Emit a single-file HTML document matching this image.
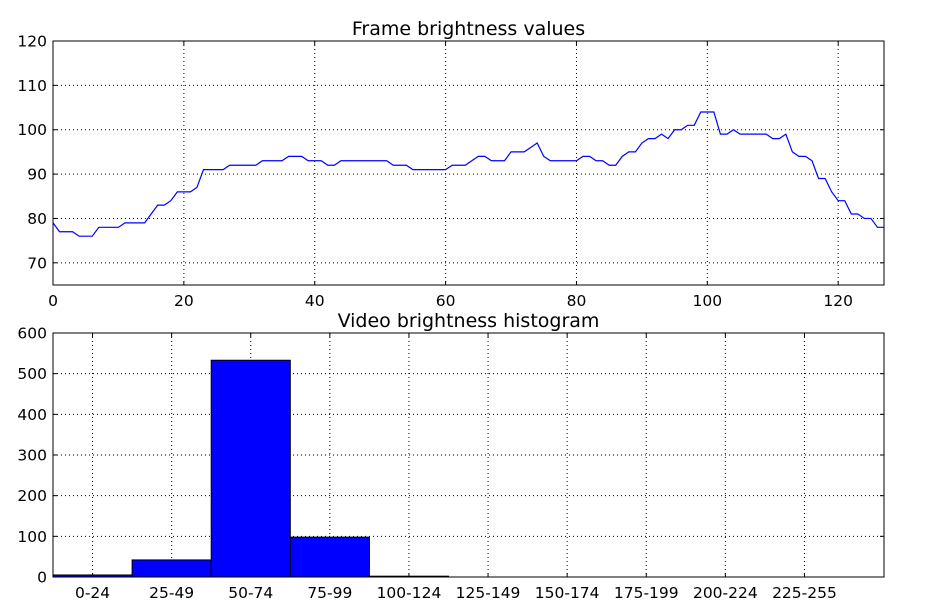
<!DOCTYPE html>
<html><head><meta charset="utf-8"><style>
html,body{margin:0;padding:0;background:#fff;}
svg{display:block;font-family:"DejaVu Sans","Liberation Sans",sans-serif;}
</style></head><body>
<svg id="c" width="930" height="609"></svg>
<script>
const frameValues=[79,77,77,77,76,76,76,78,78,78,78,79,79,79,79,81,83,83,84,86,86,86,87,91,91,91,91,92,92,92,92,92,93,93,93,93,94,94,94,93,93,93,92,92,93,93,93,93,93,93,93,93,92,92,92,91,91,91,91,91,91,92,92,92,93,94,94,93,93,93,95,95,95,96,97,94,93,93,93,93,93,94,94,93,93,92,92,94,95,95,97,98,98,99,98,100,100,101,101,104,104,104,99,99,100,99,99,99,99,99,98,98,99,95,94,94,93,89,89,86,84,84,81,81,80,80,78,78];
const topXTicks=[0,20,40,60,80,100,120];
const topYTicks=[70,80,90,100,110,120];
const histCategories=["0-24","25-49","50-74","75-99","100-124","125-149","150-174","175-199","200-224","225-255"];
const histValues=[5,42,533,98,2,0,0,0,0,0];
const histYTicks=[0,100,200,300,400,500,600];

const NS="http://www.w3.org/2000/svg";
const svg=document.getElementById('c');
const FS=15.5;
function mk(t,a,p){const e=document.createElementNS(NS,t);for(const k in a)e.setAttribute(k,a[k]);(p||svg).appendChild(e);return e;}

const T={l:53,r:884,t:41,b:285,x0:0,x1:127,y0:65,y1:120};
const tx=v=>T.l+(v-T.x0)/(T.x1-T.x0)*(T.r-T.l);
const ty=v=>T.b-(v-T.y0)/(T.y1-T.y0)*(T.b-T.t);
const g1=mk('g',{});


topXTicks.forEach(v=>{
  const x=tx(v);
  if(v>T.x0)mk('line',{x1:x,x2:x,y1:T.t,y2:T.b,stroke:'#000','stroke-dasharray':'1,3','stroke-width':1},g1);
  mk('line',{x1:x,x2:x,y1:T.b,y2:T.b-4,stroke:'#000'},g1);
  mk('line',{x1:x,x2:x,y1:T.t,y2:T.t+4,stroke:'#000'},g1);
  const t=mk('text',{x:x,y:T.b+21,'text-anchor':'middle','font-size':FS},g1);t.textContent=v;
  
  
});
topYTicks.forEach(v=>{
  const y=ty(v);
  if(v<T.y1)mk('line',{x1:T.l,x2:T.r,y1:y,y2:y,stroke:'#000','stroke-dasharray':'1,3','stroke-width':1},g1);
  mk('line',{x1:T.l,x2:T.l+4,y1:y,y2:y,stroke:'#000'},g1);
  mk('line',{x1:T.r,x2:T.r-4,y1:y,y2:y,stroke:'#000'},g1);
  const t=mk('text',{x:T.l-6,y:y+5.5,'text-anchor':'end','font-size':FS},g1);t.textContent=v;
  
  
});
const pts=frameValues.map((v,i)=>tx(i).toFixed(2)+','+ty(v).toFixed(2)).join(' ');
const pl=mk('polyline',{points:pts,fill:'none',stroke:'#0000ff','stroke-width':1.2},g1);


mk('rect',{x:T.l,y:T.t,width:T.r-T.l,height:T.b-T.t,fill:'none',stroke:'#000'},g1);
const tt=mk('text',{x:(T.l+T.r)/2,y:35,'text-anchor':'middle','font-size':19},g1);tt.textContent='Frame brightness values';



const H={l:53,r:884,t:333,b:577,y0:0,y1:600,bw:79.1};
const hy=v=>H.b-(v-H.y0)/(H.y1-H.y0)*(H.b-H.t);
const g2=mk('g',{});


histCategories.forEach((c,i)=>{
  const x=H.l+H.bw*(i+0.5);
  mk('line',{x1:x,x2:x,y1:H.t,y2:H.b,stroke:'#000','stroke-dasharray':'1,3'},g2);
  mk('line',{x1:x,x2:x,y1:H.b,y2:H.b-4,stroke:'#000'},g2);
  mk('line',{x1:x,x2:x,y1:H.t,y2:H.t+4,stroke:'#000'},g2);
  const t=mk('text',{x:x,y:H.b+21,'text-anchor':'middle','font-size':FS},g2);t.textContent=c;
  
  
});
histYTicks.forEach(v=>{
  const y=hy(v);
  if(v>H.y0&&v<H.y1)mk('line',{x1:H.l,x2:H.r,y1:y,y2:y,stroke:'#000','stroke-dasharray':'1,3'},g2);
  mk('line',{x1:H.l,x2:H.l+4,y1:y,y2:y,stroke:'#000'},g2);
  mk('line',{x1:H.r,x2:H.r-4,y1:y,y2:y,stroke:'#000'},g2);
  const t=mk('text',{x:H.l-6,y:y+5.5,'text-anchor':'end','font-size':FS},g2);t.textContent=v;
  
  
});
histValues.forEach((v,i)=>{
  if(v<=0)return;
  const x=H.l+H.bw*i,y=hy(v);
  const r=mk('rect',{x:x,y:y,width:H.bw,height:H.b-y,fill:'#0000ff',stroke:'#000','stroke-width':1},g2);
  
  
});
mk('rect',{x:H.l,y:H.t,width:H.r-H.l,height:H.b-H.t,fill:'none',stroke:'#000'},g2);
const ht=mk('text',{x:(H.l+H.r)/2,y:327,'text-anchor':'middle','font-size':19},g2);ht.textContent='Video brightness histogram';


</script>
</body></html>
